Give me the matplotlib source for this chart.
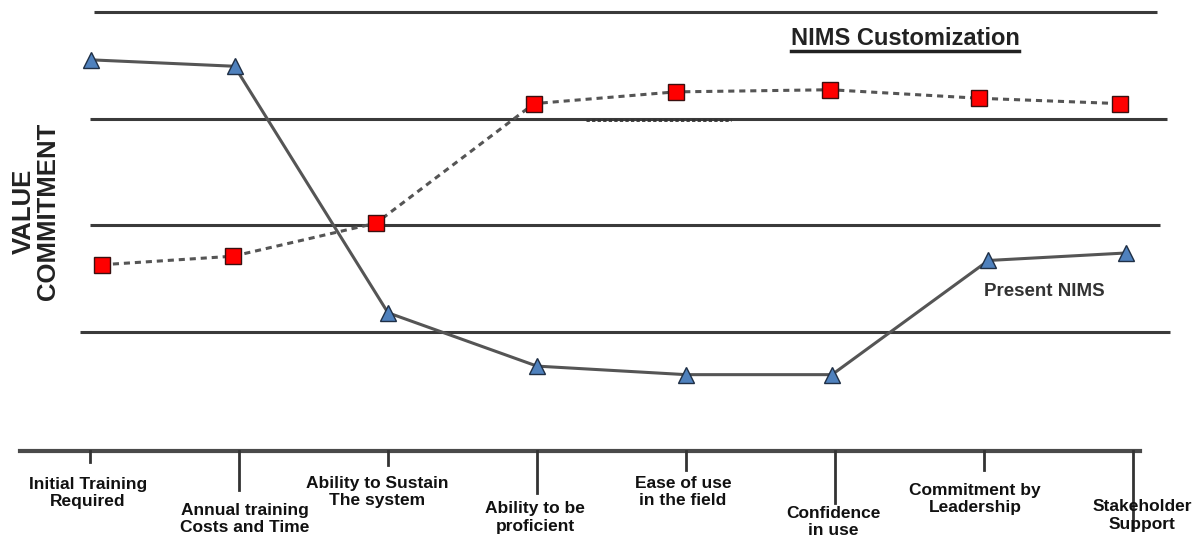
import matplotlib
matplotlib.use("Agg")
import matplotlib.pyplot as plt
from matplotlib.lines import Line2D

# ── Data ──
categories = [
    "Initial Training\nRequired",
    "Annual training\nCosts and Time",
    "Ability to Sustain\nThe system",
    "Ability to be\nproficient",
    "Ease of use\nin the field",
    "Confidence\nin use",
    "Commitment by\nLeadership",
    "Stakeholder\nSupport",
]
present_x = [0.01, 0.97, 2.0, 3.0, 4.0, 4.98, 6.03, 6.95]
present_nims = [3.55, 3.49, 1.18, 0.68, 0.60, 0.60, 1.67, 1.74]
custom_x = [0.08, 0.96, 1.92, 2.98, 3.93, 4.97, 5.97, 6.91]
nims_custom = [1.63, 1.71, 2.02, 3.14, 3.25, 3.27, 3.19, 3.14]
levels = [1, 2, 3, 4]

FONT = ["Liberation Sans", "DejaVu Sans"]

fig = plt.figure(figsize=(11.93, 5.44), dpi=100)
ax = fig.add_axes([0, 0, 1, 1])
ax.set_xlim(-0.604, 7.403)
ax.set_ylim(-0.987, 4.111)
ax.axis("off")

# ── horizontal reference lines ──
line_span = {4: (0.03, 7.16), 3: (0.0, 7.23), 2: (0.0, 7.18), 1: (-0.07, 7.25)}
for lv in levels:
    x0, x1 = line_span[lv]
    ax.plot([x0, x1], [lv, lv], color="#3a3a3a", lw=2.2, solid_capstyle="butt", zorder=1)

# stray dotted stroke under the customization curve
ax.plot([3.33, 4.3], [2.99, 2.99], color="#333333", lw=2, ls=(0, (1.2, 0.8)), zorder=1)

# ── bottom category axis ──
base = -0.115
ax.plot([-0.47, 7.05], [base, base], color="#4a4a4a", lw=3, zorder=1)
tick_len = [0.10, 0.37, 0.13, 0.39, 0.18, 0.49, 0.18, 0.74]
label_y = [-0.51, -0.75, -0.50, -0.74, -0.50, -0.78, -0.565, -0.72]
label_dx = [-0.013, 0.04, -0.07, -0.013, -0.02, -0.013, -0.06, 0.0]
for i, lab in enumerate(categories):
    ax.plot([i, i], [base, base - tick_len[i]], color="#333333", lw=2, zorder=1)
    last = i == len(categories) - 1
    ax.text(7.395 if last else i + label_dx[i], label_y[i], lab,
            ha="right" if last else "center", va="center", multialignment="center",
            fontsize=12.5, fontweight="bold", family=FONT, color="#111111",
            linespacing=1.2, zorder=3)

# ── series ──
ax.plot(present_x, present_nims, color="#555555", lw=2.2, zorder=2)
ax.plot(present_x, present_nims, ls="none", marker="^", ms=11,
        mfc="#4f81bd", mec="#1f2f45", mew=1, zorder=4)
ax.plot(custom_x, nims_custom, color="#555555", lw=2.2, ls=(0, (2, 1.6)), zorder=2)
ax.plot(custom_x, nims_custom, ls="none", marker="s", ms=12,
        mfc="#ff0000", mec="#3a1010", mew=1, zorder=4)

# ── annotations ──
ax.text(-0.365, 2.13, "VALUE\nCOMMITMENT", rotation=90, ha="center", va="center",
        fontsize=18.5, fontweight="bold", family=FONT, color="#222222",
        linespacing=1.0)

ttl = ax.text(5.47, 3.75, "NIMS Customization", ha="center", va="center",
              fontsize=17, fontweight="bold", family=FONT, color="#222222")
fig.canvas.draw()
bb = ttl.get_window_extent(fig.canvas.get_renderer())
W, H = fig.canvas.get_width_height()
fig.add_artist(Line2D([bb.x0 / W, bb.x1 / W], [(bb.y0 - 1) / H] * 2,
                      color="#222222", lw=2.5, transform=fig.transFigure))

ax.text(6.0, 1.38, "Present NIMS", ha="left", va="center",
        fontsize=13.5, fontweight="bold", family=FONT, color="#333333")

fig.savefig("out.png", dpi=100)
